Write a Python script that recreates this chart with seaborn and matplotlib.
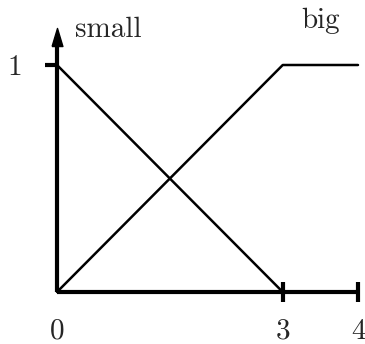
import matplotlib
matplotlib.use("Agg")
import matplotlib.pyplot as plt
import pandas as pd
import seaborn as sns

# membership functions
small_x = [0, 3]
small_y = [1, 0]
big_x = [0, 3, 4]
big_y = [0, 1, 1]
x_ticks = [0, 3, 4]
x_tick_labels = ["0", "3", "4"]
y_ticks = [1]
y_tick_labels = ["1"]

df = pd.concat([
    pd.DataFrame({"x": small_x, "mu": small_y, "set": "small"}),
    pd.DataFrame({"x": big_x, "mu": big_y, "set": "big"}),
])

sns.set_style("white")
plt.rcParams["font.family"] = ["cmr10", "DejaVu Serif"]
plt.rcParams["axes.formatter.use_mathtext"] = True

fig = plt.figure(figsize=(3.65, 3.44), dpi=100)
# axis box: x 0..4 -> px 57..358, y 0 -> px 292, top of y spine at px 37
ax = fig.add_axes([57 / 365, 52 / 344, 301 / 365, 255 / 344])
ytop = 255 / 227

sns.lineplot(data=df, x="x", y="mu", hue="set", palette={"small": "black", "big": "black"},
             sort=False, estimator=None, legend=False, linewidth=1.8, ax=ax, clip_on=False)

ax.set_xlim(0, 4)
ax.set_ylim(0, ytop)
ax.set_xlabel("")
ax.set_ylabel("")

for s in ["top", "right"]:
    ax.spines[s].set_visible(False)
for s in ["left", "bottom"]:
    ax.spines[s].set_linewidth(3)
    ax.spines[s].set_color("black")
    ax.spines[s].set_capstyle("butt")

# arrow head on the y axis (narrow)
arrow = [(-0.6, -1), (0, 1), (0.6, -1), (-0.6, -1)]
ax.plot([0], [ytop], marker=arrow, markersize=13, color="black", clip_on=False)

ax.set_xticks(x_ticks)
ax.set_xticklabels(x_tick_labels, fontsize=21)
ax.set_yticks(y_ticks)
ax.set_yticklabels(y_tick_labels, fontsize=21)
ax.tick_params(axis="x", direction="inout", length=14, width=3, pad=12, color="black", bottom=True)
ax.tick_params(axis="y", direction="out", length=9, width=3, pad=16, color="black", left=True)
ax.xaxis.get_major_ticks()[0].tick1line.set_visible(False)

ax.text(0.24, 1.123, "small", fontsize=21, va="baseline", ha="left")
ax.text(3.5, 1.163, "big", fontsize=21, va="baseline", ha="center")

fig.savefig("out.png", dpi=100)
